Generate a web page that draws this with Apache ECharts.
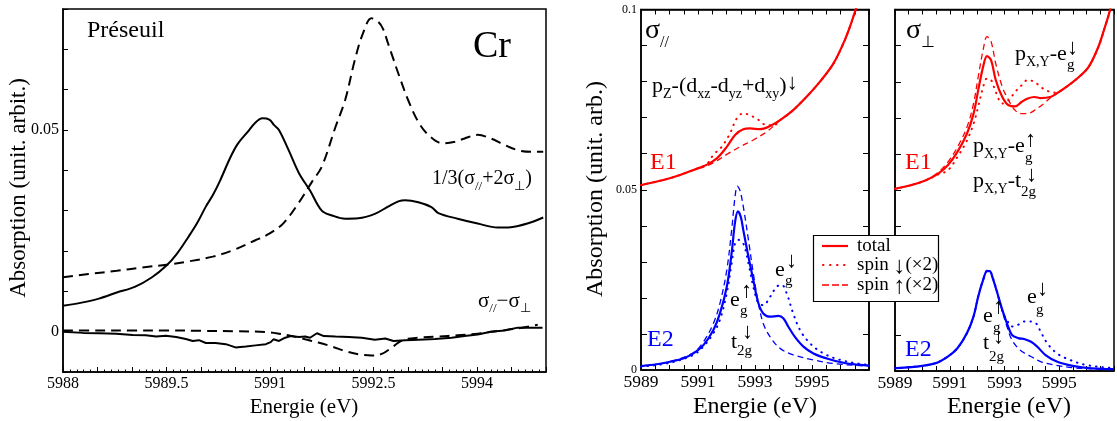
<!DOCTYPE html>
<html><head><meta charset="utf-8">
<script src="https://cdn.jsdelivr.net/npm/echarts@6/dist/echarts.min.js"></script>
<style>html,body{margin:0;padding:0;background:#fff;overflow:hidden}#c{width:1117px;height:421px}</style>
</head><body><div id="c"></div><script>
const FONT = '"Liberation Serif", "Times New Roman", serif';

// ---------- Left panel (Préseuil, Cr) ----------
const preSolid = [[5988.00,0.0064],[5988.27,0.0072],[5988.52,0.0082],[5988.78,0.0097],[5989.04,0.0111],[5989.29,0.0135],[5989.50,0.0164],[5989.65,0.0193],[5989.81,0.0233],[5989.94,0.0268],[5990.07,0.0310],[5990.17,0.0338],[5990.27,0.0372],[5990.42,0.0430],[5990.53,0.0465],[5990.68,0.0496],[5990.78,0.0517],[5990.89,0.0529],[5990.99,0.0526],[5991.06,0.0512],[5991.13,0.0500],[5991.27,0.0450],[5991.42,0.0393],[5991.58,0.0350],[5991.75,0.0300],[5991.90,0.0288],[5992.09,0.0280],[5992.28,0.0281],[5992.52,0.0292],[5992.71,0.0310],[5992.86,0.0323],[5992.96,0.0326],[5993.15,0.0321],[5993.34,0.0309],[5993.44,0.0294],[5993.72,0.0280],[5994.01,0.0268],[5994.30,0.0258],[5994.49,0.0259],[5994.73,0.0268],[5994.96,0.0283]];
const preDash = [[5988.00,0.0135],[5988.37,0.0143],[5988.78,0.0151],[5989.14,0.0159],[5989.50,0.0166],[5989.81,0.0174],[5990.17,0.0186],[5990.48,0.0203],[5990.78,0.0226],[5990.99,0.0243],[5991.19,0.0268],[5991.41,0.0318],[5991.61,0.0372],[5991.75,0.0409],[5991.95,0.0508],[5992.09,0.0575],[5992.23,0.0674],[5992.35,0.0741],[5992.47,0.0777],[5992.57,0.0768],[5992.64,0.0750],[5992.71,0.0715],[5992.79,0.0675],[5992.86,0.0640],[5993.00,0.0575],[5993.15,0.0520],[5993.30,0.0487],[5993.50,0.0467],[5993.68,0.0471],[5993.82,0.0479],[5994.01,0.0488],[5994.20,0.0479],[5994.40,0.0463],[5994.59,0.0450],[5994.78,0.0446],[5994.96,0.0446]];
const diffSolid = [[5988.00,0.0000],[5988.29,-0.0003],[5988.53,-0.0004],[5988.77,-0.0005],[5989.01,-0.0008],[5989.20,-0.0009],[5989.35,-0.0012],[5989.49,-0.0010],[5989.64,-0.0013],[5989.78,-0.0018],[5989.88,-0.0023],[5989.97,-0.0021],[5990.07,-0.0028],[5990.21,-0.0028],[5990.36,-0.0031],[5990.50,-0.0039],[5990.65,-0.0037],[5990.79,-0.0034],[5990.94,-0.0031],[5991.01,-0.0026],[5991.05,-0.0019],[5991.13,-0.0023],[5991.22,-0.0015],[5991.30,-0.0011],[5991.42,-0.0013],[5991.51,-0.0012],[5991.58,-0.0015],[5991.68,-0.0004],[5991.78,-0.0011],[5991.95,-0.0012],[5992.14,-0.0013],[5992.33,-0.0015],[5992.52,-0.0020],[5992.67,-0.0017],[5992.79,-0.0023],[5992.96,-0.0021],[5993.15,-0.0020],[5993.39,-0.0018],[5993.63,-0.0015],[5993.82,-0.0011],[5994.01,-0.0007],[5994.20,0.0000],[5994.40,0.0003],[5994.59,0.0010],[5994.78,0.0010],[5994.95,0.0010]];
const diffDash = [[5988.00,0.0003],[5988.50,0.0003],[5989.00,0.0003],[5989.50,0.0003],[5990.00,0.0002],[5990.50,0.0001],[5990.94,-0.0001],[5991.13,-0.0005],[5991.32,-0.0011],[5991.51,-0.0019],[5991.70,-0.0027],[5991.90,-0.0037],[5992.09,-0.0048],[5992.28,-0.0056],[5992.47,-0.0059],[5992.62,-0.0055],[5992.76,-0.0040],[5992.86,-0.0027],[5992.96,-0.0019],[5993.15,-0.0015],[5993.44,-0.0012],[5993.72,-0.0009],[5994.01,-0.0005],[5994.30,0.0002],[5994.59,0.0008],[5994.88,0.0017]];

// ---------- Middle panel (sigma //) ----------
const parE1Tot = [[5989.00,0.0513],[5989.78,0.0527],[5990.37,0.0541],[5990.84,0.0555],[5991.30,0.0569],[5991.66,0.0587],[5992.01,0.0619],[5992.30,0.0652],[5992.59,0.0668],[5992.82,0.0670],[5993.18,0.0668],[5993.53,0.0677],[5993.88,0.0693],[5994.34,0.0721],[5994.81,0.0758],[5995.28,0.0800],[5995.75,0.0850],[5996.10,0.0906],[5996.33,0.0952],[5996.57,0.1008],[5997.00,0.1100]];
const parE1Up = [[5989.00,0.0513],[5989.78,0.0527],[5990.37,0.0541],[5990.84,0.0555],[5991.30,0.0566],[5991.66,0.0580],[5992.01,0.0598],[5992.47,0.0619],[5992.94,0.0638],[5993.41,0.0661],[5993.70,0.0680],[5993.88,0.0693],[5994.34,0.0721],[5994.81,0.0758],[5995.28,0.0800],[5995.75,0.0850],[5996.10,0.0906],[5996.33,0.0952],[5996.57,0.1008],[5997.00,0.1100]];
const parE1Dn = [[5989.00,0.0513],[5989.78,0.0527],[5990.37,0.0541],[5990.84,0.0555],[5991.30,0.0571],[5991.54,0.0597],[5991.83,0.0619],[5992.12,0.0656],[5992.36,0.0698],[5992.59,0.0712],[5992.82,0.0707],[5993.12,0.0694],[5993.41,0.0679],[5993.70,0.0680],[5993.88,0.0693],[5994.34,0.0721],[5994.81,0.0758],[5995.28,0.0800],[5995.75,0.0850],[5996.10,0.0906],[5996.33,0.0952],[5996.57,0.1008],[5997.00,0.1100]];
const parE2Tot = [[5989.00,0.0011],[5989.55,0.0016],[5990.02,0.0023],[5990.48,0.0032],[5990.84,0.0046],[5991.19,0.0069],[5991.54,0.0111],[5991.77,0.0157],[5992.01,0.0231],[5992.18,0.0324],[5992.30,0.0410],[5992.40,0.0440],[5992.50,0.0425],[5992.59,0.0388],[5992.77,0.0314],[5992.94,0.0250],[5993.12,0.0185],[5993.29,0.0157],[5993.53,0.0148],[5993.82,0.0150],[5994.00,0.0143],[5994.17,0.0120],[5994.40,0.0092],[5994.70,0.0065],[5995.05,0.0046],[5995.52,0.0032],[5996.10,0.0020],[5996.68,0.0014],[5997.00,0.0012]];
const parE2Up = [[5989.00,0.0011],[5990.02,0.0023],[5990.84,0.0048],[5991.19,0.0078],[5991.54,0.0129],[5991.77,0.0185],[5992.01,0.0277],[5992.18,0.0388],[5992.30,0.0481],[5992.38,0.0510],[5992.47,0.0499],[5992.59,0.0453],[5992.77,0.0361],[5992.94,0.0268],[5993.12,0.0185],[5993.29,0.0129],[5993.53,0.0092],[5993.88,0.0060],[5994.34,0.0042],[5995.05,0.0028],[5995.75,0.0018],[5996.68,0.0012],[5997.00,0.0011]];
const parE2Dn = [[5989.00,0.0009],[5990.02,0.0020],[5990.84,0.0042],[5991.19,0.0065],[5991.54,0.0102],[5991.77,0.0139],[5992.01,0.0213],[5992.18,0.0296],[5992.30,0.0351],[5992.42,0.0361],[5992.59,0.0351],[5992.77,0.0296],[5992.94,0.0231],[5993.12,0.0185],[5993.29,0.0180],[5993.53,0.0203],[5993.76,0.0231],[5993.94,0.0236],[5994.11,0.0213],[5994.34,0.0157],[5994.58,0.0111],[5994.93,0.0074],[5995.40,0.0046],[5995.99,0.0028],[5996.68,0.0017],[5997.00,0.0015]];

// ---------- Right panel (sigma perp) ----------
const perE1Tot = [[5989.00,0.0504],[5989.53,0.0513],[5990.11,0.0527],[5990.58,0.0546],[5990.93,0.0569],[5991.28,0.0606],[5991.63,0.0657],[5991.87,0.0712],[5992.04,0.0777],[5992.22,0.0842],[5992.36,0.0871],[5992.51,0.0860],[5992.68,0.0805],[5992.92,0.0758],[5993.15,0.0735],[5993.39,0.0732],[5993.62,0.0744],[5993.85,0.0754],[5994.09,0.0758],[5994.32,0.0755],[5994.67,0.0758],[5994.91,0.0768],[5995.26,0.0786],[5995.73,0.0814],[5996.08,0.0842],[5996.43,0.0897],[5996.67,0.0952],[5996.79,0.0981],[5997.00,0.1040]];
const perE1Up = [[5989.00,0.0504],[5989.53,0.0513],[5990.11,0.0527],[5990.58,0.0550],[5990.93,0.0578],[5991.28,0.0619],[5991.63,0.0675],[5991.87,0.0740],[5992.04,0.0814],[5992.22,0.0888],[5992.36,0.0925],[5992.51,0.0911],[5992.68,0.0850],[5992.92,0.0786],[5993.15,0.0749],[5993.39,0.0721],[5993.62,0.0712],[5993.85,0.0712],[5994.09,0.0721],[5994.44,0.0740],[5994.79,0.0763],[5995.03,0.0774],[5995.26,0.0786],[5995.73,0.0814],[5996.08,0.0842],[5996.43,0.0897],[5996.67,0.0952],[5996.79,0.0981],[5997.00,0.1040]];
const perE1Dn = [[5989.00,0.0504],[5989.53,0.0513],[5990.11,0.0527],[5990.58,0.0544],[5990.93,0.0555],[5991.28,0.0592],[5991.63,0.0638],[5991.87,0.0684],[5992.04,0.0731],[5992.22,0.0786],[5992.36,0.0809],[5992.51,0.0805],[5992.68,0.0772],[5992.92,0.0740],[5993.15,0.0749],[5993.39,0.0772],[5993.62,0.0790],[5993.85,0.0805],[5994.09,0.0800],[5994.32,0.0786],[5994.56,0.0775],[5994.85,0.0770],[5995.26,0.0786],[5995.73,0.0814],[5996.08,0.0842],[5996.43,0.0897],[5996.67,0.0952],[5996.79,0.0981],[5997.00,0.1040]];
const perE2Tot = [[5989.00,0.0008],[5989.76,0.0012],[5990.46,0.0021],[5990.93,0.0040],[5991.28,0.0063],[5991.63,0.0105],[5991.87,0.0151],[5992.04,0.0206],[5992.22,0.0252],[5992.36,0.0276],[5992.46,0.0276],[5992.57,0.0257],[5992.74,0.0215],[5992.92,0.0169],[5993.09,0.0132],[5993.27,0.0100],[5993.50,0.0091],[5993.74,0.0088],[5993.97,0.0081],[5994.20,0.0067],[5994.50,0.0044],[5994.91,0.0026],[5995.49,0.0014],[5996.19,0.0007],[5997.00,0.0005]];
const perE2Up = [[5989.00,0.0008],[5989.76,0.0012],[5990.46,0.0021],[5990.93,0.0040],[5991.28,0.0063],[5991.63,0.0105],[5991.87,0.0151],[5992.04,0.0206],[5992.22,0.0253],[5992.36,0.0278],[5992.46,0.0277],[5992.57,0.0257],[5992.74,0.0213],[5992.92,0.0165],[5993.09,0.0123],[5993.27,0.0086],[5993.50,0.0063],[5993.74,0.0049],[5993.97,0.0040],[5994.32,0.0026],[5994.79,0.0017],[5995.49,0.0009],[5996.19,0.0006],[5997.00,0.0005]];
const perE2Dn = [[5989.00,0.0008],[5989.76,0.0012],[5990.46,0.0021],[5990.93,0.0040],[5991.28,0.0063],[5991.63,0.0105],[5991.87,0.0151],[5992.04,0.0206],[5992.22,0.0252],[5992.36,0.0276],[5992.46,0.0276],[5992.57,0.0258],[5992.74,0.0217],[5992.92,0.0165],[5993.09,0.0141],[5993.27,0.0123],[5993.50,0.0128],[5993.74,0.0137],[5993.97,0.0137],[5994.15,0.0132],[5994.32,0.0109],[5994.56,0.0077],[5994.91,0.0049],[5995.38,0.0031],[5995.96,0.0017],[5996.79,0.0009],[5997.00,0.0008]];

// tick label sets
const leftXLabels = [5988, 5989.5, 5991, 5992.5, 5994];
const leftYLabels = [0, 0.05];
const sideXLabels = [5989, 5991, 5993, 5995];
const sideYLabels = [0, 0.05, 0.1];

const near = (v, arr) => arr.some(a => Math.abs(a - v) < 1e-7);
const fmt = arr => v => near(v, arr) ? String(arr.find(a => Math.abs(a - v) < 1e-7)) : '';

const chart = echarts.init(document.getElementById('c'), null, {renderer: 'canvas'});

const BLK = '#000';
function xAxis(grid, min, max, labels, opt) {
  opt = opt || {};
  return {
    type: 'value', gridIndex: grid, min, max, interval: 0.5, position: opt.top ? 'top' : 'bottom',
    axisLine: {show: true, onZero: false, lineStyle: {color: BLK, width: 1.5}},
    axisTick: {show: true, inside: true, length: opt.tl || 5, lineStyle: {color: BLK, width: 1}},
    minorTick: {show: !!opt.minor, splitNumber: 5, length: 2.5, lineStyle: {color: BLK, width: 1}},
    splitLine: {show: false}, minorSplitLine: {show: false},
    axisLabel: {show: !opt.top, formatter: fmt(labels), fontFamily: FONT, fontSize: opt.fs || 16, color: BLK, margin: opt.margin || 4, hideOverlap: false}
  };
}
function yAxis(grid, min, max, labels, opt) {
  opt = opt || {};
  return {
    type: 'value', gridIndex: grid, min, max, interval: 0.01, position: opt.right ? 'right' : 'left',
    axisLine: {show: true, onZero: false, lineStyle: {color: BLK, width: 1.5}},
    axisTick: {show: true, inside: true, length: opt.tl || 5, lineStyle: {color: BLK, width: 1}},
    splitLine: {show: false},
    axisLabel: {show: !!labels, formatter: labels ? fmt(labels) : '', fontFamily: FONT, fontSize: opt.fs || 16, color: BLK, margin: opt.margin || 4, hideOverlap: false}
  };
}
function line(data, xi, yi, color, width, dash, smooth) {
  const ls = {color, width, type: dash || 'solid'};
  if (Array.isArray(dash) && dash[0] <= 1) ls.cap = 'round';
  return {type: 'line', data, xAxisIndex: xi, yAxisIndex: yi, showSymbol: false, symbol: 'none',
    smooth: smooth === undefined ? 0.35 : smooth, lineStyle: ls, silent: true, animation: false, clip: true, z: 3};
}

const RED = '#ff0000', BLUE = '#0000ff';
const DOT = [0.5, 6], DASH = [6, 4], LDASH = [10, 6];
const AR = 22; // arrow font size

function T(x, y, text, size, color, align, rot) {
  return {type: 'text', x, y, rotation: rot || 0, z: 60, silent: true,
    style: {text, font: size + 'px ' + FONT, fill: color || BLK, align: align || 'left', verticalAlign: 'middle'}};
}
function R(x, y, segs, o) {
  o = o || {};
  const F = o.F || 22, f = o.f || 14, ds = o.ds || 8, du = o.du || 5, col = o.c || BLK;
  const rich = {
    m: {fontSize: F, fontFamily: FONT, fill: col, verticalAlign: 'middle'},
    s: {fontSize: f, fontFamily: FONT, fill: col, verticalAlign: 'middle', padding: [2 * ds, 0, 0, 0]},
    u: {fontSize: o.fu || f, fontFamily: FONT, fill: col, verticalAlign: 'middle', padding: [0, 0, 2 * du, 0]},
    a: {fontSize: o.fa || F, fontFamily: FONT, fill: col, verticalAlign: 'middle', padding: [2 * (o.da || 0), 0, 0, 0]}
  };
  const text = segs.map(s => '{' + s[0] + '|' + s[1] + '}').join('');
  return {type: 'text', x, y, z: o.z || 60, silent: true,
    style: {text, rich, fill: col, font: F + 'px ' + FONT, align: 'left', verticalAlign: 'middle'}};
}

const graphics = [
  // axis names
  T(19, 188, 'Absorption (unit. arbit.)', 23, BLK, 'center', Math.PI / 2),
  T(304, 407, 'Energie (eV)', 21, BLK, 'center'),
  T(596, 189, 'Absorption (unit. arb.)', 24, BLK, 'center', Math.PI / 2),
  T(755, 407, 'Energie (eV)', 24, BLK, 'center'),
  T(1009, 407, 'Energie (eV)', 24, BLK, 'center'),
  // left panel
  T(87, 31, 'Préseuil', 24),
  T(473, 47, 'Cr', 38),
  R(432, 179, [['m', '1/3(σ'], ['s', '//'], ['m', '+2σ'], ['s', '⊥'], ['m', ')']], {F: 20, f: 13, ds: 8}),
  R(478, 301, [['m', 'σ'], ['s', '//'], ['m', '−σ'], ['s', '⊥']], {F: 21, f: 13, ds: 8}),
  // middle panel
  R(645, 31, [['m', 'σ'], ['s', '//']], {F: 28, f: 16, ds: 12}),
  R(652, 86, [['m', 'p'], ['s', 'Z'], ['m', '-(d'], ['s', 'xz'], ['m', '-d'], ['s', 'yz'], ['m', '+d'], ['s', 'xy'], ['m', ')'], ['u', '↓']], {F: 22, f: 14, fu: AR, ds: 8, du: 3}),
  T(650, 163, 'E1', 24, RED),
  T(647, 340, 'E2', 24, BLUE),
  T(775, 270, 'e', 22), T(786, 261, '↓', AR), T(785, 281, 'g', 15),
  T(730, 300, 'e', 22), T(741, 291, '↑', AR), T(740, 311, 'g', 15),
  T(731, 342, 't', 22), T(742, 332, '↓', AR), T(737, 351, '2g', 15),
  // right panel
  R(906, 31, [['m', 'σ'], ['s', '⊥']], {F: 28, f: 16, ds: 12}),
  R(1015, 54, [['m', 'p'], ['s', 'X,Y'], ['m', '-e']], {F: 22, f: 14, ds: 8}),
  T(1067, 48, '↓', AR), T(1067, 65, 'g', 15),
  R(973, 146, [['m', 'p'], ['s', 'X,Y'], ['m', '-e']], {F: 22, f: 14, ds: 8}),
  T(1025, 140, '↑', AR), T(1025, 158, 'g', 15),
  R(973, 181, [['m', 'p'], ['s', 'X,Y'], ['m', '-t']], {F: 22, f: 14, ds: 8}),
  T(1026, 175, '↓', AR), T(1021, 192, '2g', 15),
  T(905, 163, 'E1', 24, RED),
  T(905, 350, 'E2', 24, BLUE),
  T(1027, 297, 'e', 22), T(1037, 289, '↓', AR), T(1036, 310, 'g', 15),
  T(983, 316, 'e', 22), T(993, 307, '↑', AR), T(993, 328, 'g', 15),
  T(983, 343, 't', 22), T(993, 337, '↓', AR), T(989, 357, '2g', 15),
  // legend box
  {type: 'rect', z: 100, silent: true, shape: {x: 813.5, y: 235.5, width: 125, height: 66}, style: {fill: '#fff', stroke: BLK, lineWidth: 1.2}},
  {type: 'line', z: 101, silent: true, shape: {x1: 822, y1: 246, x2: 848, y2: 246}, style: {stroke: RED, lineWidth: 2.2}},
  {type: 'line', z: 101, silent: true, shape: {x1: 823, y1: 265, x2: 848, y2: 265}, style: {stroke: RED, lineWidth: 2, lineDash: [0.5, 6.5], lineCap: 'round'}},
  {type: 'line', z: 101, silent: true, shape: {x1: 822, y1: 285, x2: 848, y2: 285}, style: {stroke: RED, lineWidth: 1.3, lineDash: [7, 3]}},
  Object.assign(T(857, 246, 'total', 19), {z: 102}),
  R(857, 265, [['m', 'spin '], ['a', '↓'], ['m', '(×2)']], {F: 19, fa: 24, da: 1.5, z: 102}),
  R(857, 285, [['m', 'spin '], ['a', '↑'], ['m', '(×2)']], {F: 19, fa: 24, da: 1.5, z: 102})
];

const option = {
  backgroundColor: '#fff',
  animation: false,
  grid: [
    {left: 63, right: 571, top: 9, bottom: 49, show: true, borderColor: BLK, borderWidth: 1.5, containLabel: false},
    {left: 641, right: 248, top: 9.5, bottom: 51, show: true, borderColor: BLK, borderWidth: 1.5, containLabel: false},
    {left: 895, right: -6, top: 9.5, bottom: 50, show: true, borderColor: BLK, borderWidth: 1.5, containLabel: false}
  ],
  xAxis: [
    xAxis(0, 5988, 5995, leftXLabels, {minor: true, fs: 16, margin: 4}),
    xAxis(1, 5989, 5997, sideXLabels, {fs: 17.5, margin: 3}),
    xAxis(1, 5989, 5997, sideXLabels, {top: true}),
    xAxis(2, 5989, 5997, sideXLabels, {fs: 17.5, margin: 3}),
    xAxis(2, 5989, 5997, sideXLabels, {top: true})
  ],
  yAxis: [
    yAxis(0, -0.01, 0.08, leftYLabels, {fs: 16, margin: 4}),
    yAxis(1, 0, 0.1, sideYLabels, {fs: 12, margin: 4, tl: 6}),
    yAxis(1, 0, 0.1, null, {right: true, tl: 6}),
    yAxis(2, 0, 0.1, null, {tl: 6})
  ],
  series: [
    line(preDash, 0, 0, BLK, 2, LDASH),
    line(preSolid, 0, 0, BLK, 2),
    line(diffDash, 0, 0, BLK, 2, LDASH),
    line(diffSolid, 0, 0, BLK, 2, 'solid', false),
    line(parE1Up, 1, 1, RED, 1.3, DASH),
    line(parE1Dn, 1, 1, RED, 2, DOT),
    line(parE1Tot, 1, 1, RED, 2.2),
    line(parE2Up, 1, 1, BLUE, 1.3, DASH),
    line(parE2Dn, 1, 1, BLUE, 2, DOT),
    line(parE2Tot, 1, 1, BLUE, 2.2),
    line(perE1Up, 3, 3, RED, 1.3, DASH),
    line(perE1Dn, 3, 3, RED, 2, DOT),
    line(perE1Tot, 3, 3, RED, 2.2),
    line(perE2Up, 3, 3, BLUE, 1.3, DASH),
    line(perE2Dn, 3, 3, BLUE, 2, DOT),
    line(perE2Tot, 3, 3, BLUE, 2.2)
  ],
  graphic: graphics
};
chart.setOption(option);
</script></body></html>
